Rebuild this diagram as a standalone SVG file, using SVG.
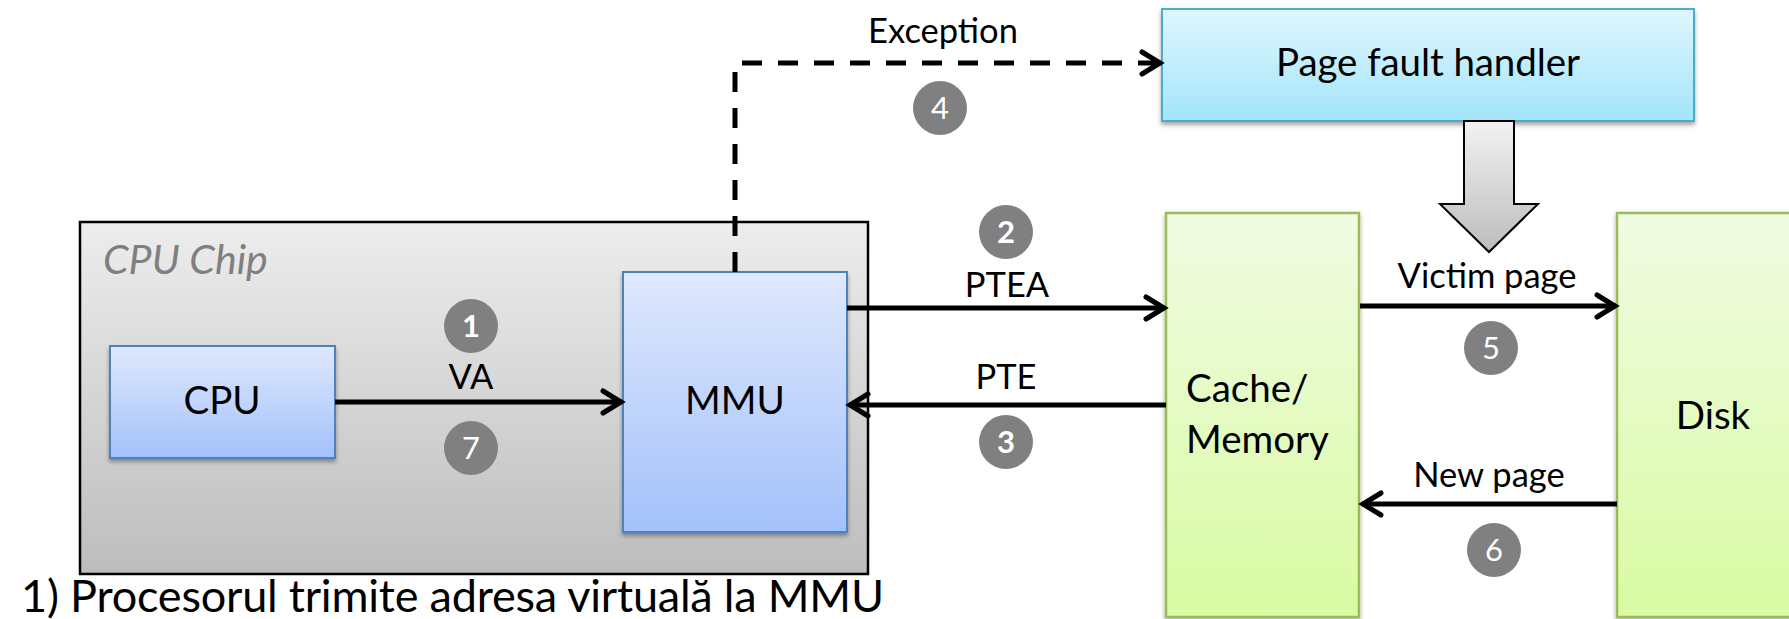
<svg xmlns="http://www.w3.org/2000/svg" width="1789" height="619" viewBox="0 0 1789 619">
  <defs>
    <linearGradient id="gChip" x1="0" y1="0" x2="0" y2="1">
      <stop offset="0" stop-color="#ededed"/>
      <stop offset="1" stop-color="#bdbdbd"/>
    </linearGradient>
    <linearGradient id="gBlue" x1="0" y1="0" x2="0" y2="1">
      <stop offset="0" stop-color="#dfe8fd"/>
      <stop offset="1" stop-color="#a3c1fa"/>
    </linearGradient>
    <linearGradient id="gCyan" x1="0" y1="0" x2="0" y2="1">
      <stop offset="0" stop-color="#dff6fd"/>
      <stop offset="1" stop-color="#a3e5fa"/>
    </linearGradient>
    <linearGradient id="gGreen" x1="0" y1="0" x2="0" y2="1">
      <stop offset="0" stop-color="#f1fbe3"/>
      <stop offset="1" stop-color="#d8fba2"/>
    </linearGradient>
    <linearGradient id="gGrey" x1="0" y1="0" x2="0" y2="1">
      <stop offset="0" stop-color="#f2f2f2"/>
      <stop offset="1" stop-color="#bcbcbc"/>
    </linearGradient>
    <filter id="shadow" x="-10%" y="-10%" width="120%" height="125%">
      <feDropShadow dx="0" dy="3" stdDeviation="2" flood-color="#000" flood-opacity="0.35"/>
    </filter>
    <marker id="head" viewBox="-24 -14 28 28" refX="0" refY="0" markerWidth="28" markerHeight="28" markerUnits="userSpaceOnUse" orient="auto">
      <path d="M-19,-11 L-1,0 L-19,11" fill="none" stroke="#000" stroke-width="5" stroke-linecap="round" stroke-linejoin="miter"/>
    </marker>
  </defs>
  <style>
    text { font-family: Lato, "Open Sans", "Liberation Sans", sans-serif; fill: #000; }
    .lbl { font-size: 38.5px; }
    .edge { font-size: 34.5px; text-anchor: middle; }
    .num { font-size: 31px; fill: #fff; text-anchor: middle; }
    .num.b { font-weight: bold; }
    .badge { fill: #808080; }
    .conn { fill: none; stroke: #000; stroke-width: 5; }
    .blue { fill: url(#gBlue); stroke: #4f81bd; stroke-width: 2; filter: url(#shadow); }
    .green { fill: url(#gGreen); stroke: #9bbb59; stroke-width: 2.5; filter: url(#shadow); }
    .cyan { fill: url(#gCyan); stroke: #4bacc6; stroke-width: 2; filter: url(#shadow); }
  </style>

  <rect width="1789" height="619" fill="#fff"/>

  <!-- CPU chip enclosure -->
  <g id="cpu-chip">
    <rect x="80" y="222" width="788" height="352" fill="url(#gChip)" stroke="#000" stroke-width="2.5"/>
    <text x="103" y="274" font-size="41" font-style="italic" style="fill:#7f7f7f">CPU Chip</text>
  </g>

  <g id="cpu">
    <rect class="blue" x="110" y="346" width="225" height="112"/>
    <text class="lbl" x="222" y="414" text-anchor="middle">CPU</text>
  </g>

  <g id="mmu">
    <rect class="blue" x="623" y="272" width="224" height="260"/>
    <text class="lbl" x="735" y="414" text-anchor="middle">MMU</text>
  </g>

  <g id="page-fault-handler">
    <rect class="cyan" x="1162" y="9" width="532" height="112"/>
    <text class="lbl" x="1428" y="76" text-anchor="middle" textLength="304">Page fault handler</text>
  </g>

  <g id="cache-memory">
    <rect class="green" x="1166" y="213" width="193" height="404"/>
    <text class="lbl" x="1186" y="402" font-size="40">Cache/</text>
    <text class="lbl" x="1186" y="453" font-size="40">Memory</text>
  </g>

  <g id="disk">
    <rect class="green" x="1617" y="213" width="200" height="404"/>
    <text class="lbl" x="1713" y="429" text-anchor="middle">Disk</text>
  </g>

  <!-- connectors -->
  <g id="connectors">
    <line class="conn" x1="335" y1="402" x2="622" y2="402" marker-end="url(#head)"/>
    <line class="conn" x1="847" y1="308" x2="1165" y2="308" marker-end="url(#head)"/>
    <line class="conn" x1="1166" y1="405" x2="849" y2="405" marker-end="url(#head)"/>
    <line class="conn" x1="1360" y1="306" x2="1616" y2="306" marker-end="url(#head)"/>
    <line class="conn" x1="1617" y1="504" x2="1362" y2="504" marker-end="url(#head)"/>
    <polyline class="conn" points="735,272 735,63 1150,63" stroke-width="5.5" stroke-dasharray="20 16"/>
    <line class="conn" x1="1150" y1="63" x2="1161" y2="63" marker-end="url(#head)"/>
    <polygon points="1464,121 1514,121 1514,204 1538,204 1489,252 1440,204 1464,204" fill="url(#gGrey)" stroke="#000" stroke-width="2"/>
  </g>

  <!-- connector labels -->
  <g id="labels">
    <text class="edge" x="471" y="389">VA</text>
    <text class="edge" x="1007" y="297">PTEA</text>
    <text class="edge" x="1006" y="389">PTE</text>
    <text class="edge" x="943" y="43">Exception</text>
    <text class="edge" x="1487" y="288">Victim page</text>
    <text class="edge" x="1489" y="487">New page</text>
  </g>

  <!-- step badges -->
  <g id="steps">
    <circle class="badge" cx="471" cy="326" r="27"/><text class="num b" x="471" y="337">1</text>
    <circle class="badge" cx="1006" cy="232" r="27"/><text class="num b" x="1006" y="243">2</text>
    <circle class="badge" cx="1006" cy="442" r="27"/><text class="num b" x="1006" y="453">3</text>
    <circle class="badge" cx="940" cy="108" r="27"/><text class="num" x="940" y="119">4</text>
    <circle class="badge" cx="1491" cy="348" r="27"/><text class="num" x="1491" y="359">5</text>
    <circle class="badge" cx="1494" cy="550" r="27"/><text class="num" x="1494" y="561">6</text>
    <circle class="badge" cx="471" cy="448" r="27"/><text class="num" x="471" y="459">7</text>
  </g>

  <text id="caption" x="21" y="612" font-size="45" textLength="863">1) Procesorul trimite adresa virtuală la MMU</text>
</svg>
